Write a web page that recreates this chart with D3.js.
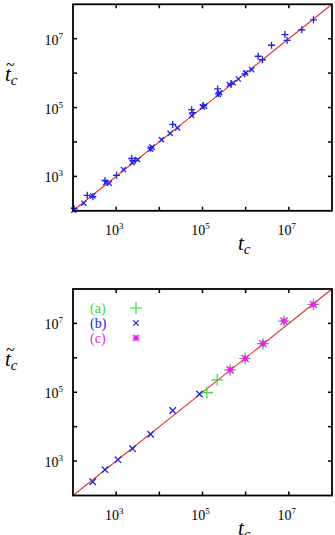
<!DOCTYPE html>
<html>
<head>
<meta charset="utf-8">
<script src="https://cdn.jsdelivr.net/npm/d3@7"></script>
<style>
  body { margin: 0; background: #fff; }
  svg { display: block; }
  text { font-family: "Liberation Serif", "DejaVu Serif", serif; }
</style>
</head>
<body>
<svg id="chart" width="335" height="535"></svg>
<script>
// tick exponents (labels only on odd decades)
const tickExps = [2, 3, 4, 5, 6, 7, 8]
const labelExps = [3, 5, 7]

// top panel: values (t_c, t~_c)
const topPlusTc = [107, 214, 288, 550, 1020, 2290, 2750, 6300, 20400, 56000, 60000, 105000, 224000, 234000, 457000, 955000, 1950000, 2450000, 3980000, 8130000, 9120000, 20000000, 37200000]
const topPlusTt = [115, 282, 257, 760, 1070, 3310, 2880, 6600, 32400, 87000, 71000, 115000, 347000, 251000, 479000, 955000, 3090000, 2450000, 6460000, 13200000, 8910000, 18200000, 35500000]
const topCrossTc = [105, 178, 288, 575, 692, 1480, 2340, 3160, 6300, 6760, 11200, 17800, 26300, 56200, 100000, 112000, 234000, 251000, 417000, 513000, 676000, 1000000, 1380000]
const topCrossTt = [105, 166, 269, 660, 631, 1580, 2510, 3090, 6300, 7080, 11700, 17800, 25700, 58900, 105000, 110000, 240000, 269000, 468000, 525000, 676000, 1000000, 1260000]

// bottom panel series
const aTc = [126000, 219000, 437000, 977000, 2510000, 7760000, 37200000]
const aTt = [98000, 229000, 447000, 955000, 2570000, 11700000, 35500000]
const bTc = [286, 550, 1100, 2400, 6300, 20400, 85000]
const bTt = [251, 562, 1100, 2290, 6030, 29500, 89000]
const cTc = [437000, 977000, 2510000, 7760000, 37200000]
const cTt = [447000, 955000, 2570000, 11700000, 35500000]

const legendNames = ['(a)', '(b)', '(c)']

const svg = d3.select('#chart')

const shapes = {
  plus: (r) => `M${-r},0H${r}M0,${-r}V${r}`,
  cross: (r) => `M${-r},${-r}L${r},${r}M${-r},${r}L${r},${-r}`
}

function drawMarker (m, st) {
  if (st.square) {
    m.append('rect')
      .attr('x', -st.square).attr('y', -st.square)
      .attr('width', st.square * 2).attr('height', st.square * 2)
      .attr('fill', st.color)
  }
  st.shapes.forEach((s) => {
    m.append('path')
      .attr('d', shapes[s](st.r))
      .attr('stroke', st.color)
      .attr('stroke-width', st.sw)
      .attr('fill', 'none')
  })
}

function drawMarks (g, x, y, tc, tt, opts) {
  const pts = tc.map((d, i) => [d, tt[i]])
  g.selectAll(null)
    .data(pts)
    .enter().append('g')
    .attr('transform', (d) => `translate(${x(d[0])},${y(d[1])})`)
    .each(function () { drawMarker(d3.select(this), opts) })
}

function drawPanel (top, drawData) {
  const left = 73
  const right = 332
  const bottom = top + 206.5
  const x = d3.scaleLog().domain([1e2, 1e8]).range([left, right])
  const y = d3.scaleLog().domain([1e2, 1e8]).range([bottom, top])
  const g = svg.append('g')

  // diagonal
  g.append('line')
    .attr('x1', x(1e2)).attr('y1', y(1e2))
    .attr('x2', x(1e8)).attr('y2', y(1e8))
    .attr('stroke', '#e8302c')
    .attr('stroke-width', 1.1)

  drawData(g, x, y)

  // frame
  g.append('rect')
    .attr('x', left).attr('y', top)
    .attr('width', right - left).attr('height', bottom - top)
    .attr('fill', 'none')
    .attr('stroke', '#000')
    .attr('stroke-width', 1.8)

  // inward ticks on all four sides
  const tk = 4
  const ticks = g.append('g').attr('stroke', '#000').attr('stroke-width', 1.5)
  tickExps.slice(1, -1).forEach((e) => {
    const v = Math.pow(10, e)
    ticks.append('line').attr('x1', x(v)).attr('x2', x(v)).attr('y1', bottom).attr('y2', bottom - tk)
    ticks.append('line').attr('x1', x(v)).attr('x2', x(v)).attr('y1', top).attr('y2', top + tk)
    ticks.append('line').attr('y1', y(v)).attr('y2', y(v)).attr('x1', left).attr('x2', left + tk)
    ticks.append('line').attr('y1', y(v)).attr('y2', y(v)).attr('x1', right).attr('x2', right - tk)
  })

  // tick labels
  labelExps.forEach((e) => {
    const v = Math.pow(10, e)
    const tx = g.append('text')
      .attr('x', x(v) - 2).attr('y', bottom + 24)
      .attr('text-anchor', 'middle')
      .attr('font-size', 14)
    tx.append('tspan').text('10')
    tx.append('tspan').attr('font-size', 9).attr('dy', -6).text(e)

    const ty = g.append('text')
      .attr('x', 63).attr('y', y(v) + 6)
      .attr('text-anchor', 'end')
      .attr('font-size', 14)
    ty.append('tspan').text('10')
    ty.append('tspan').attr('font-size', 9).attr('dy', -6).text(e)
  })

  // axis labels
  const xl = g.append('text')
    .attr('x', 238).attr('y', bottom + 39)
    .attr('font-size', 21)
    .attr('font-style', 'italic')
  xl.append('tspan').text('t')
  xl.append('tspan').attr('font-size', 15).attr('dy', 4).text('c')

  // t with tilde, as one text element
  const yl = g.append('text')
    .attr('font-size', 21)
    .attr('font-style', 'italic')
  yl.append('tspan').attr('x', 6).attr('y', top + 66).attr('font-size', 16).attr('font-style', 'normal').text('~')
  yl.append('tspan').attr('x', 5).attr('y', top + 77).text('t')
  yl.append('tspan').attr('font-size', 15).attr('dy', 4).text('c')

  return { x, y, g }
}

// top panel
drawPanel(4.3, (g, x, y) => {
  drawMarks(g, x, y, topPlusTc, topPlusTt, { shapes: ['plus'], r: 3.5, sw: 1.3, color: '#2222ee' })
  drawMarks(g, x, y, topCrossTc, topCrossTt, { shapes: ['cross'], r: 2.6, sw: 1.3, color: '#2222ee' })
})

// bottom panel
const colors = ['#33dd33', '#2222dd', '#ee22ee']
const styles = [
  { shapes: ['plus'], r: 6, sw: 1.2, color: colors[0] },
  { shapes: ['cross'], r: 3.2, sw: 1.3, color: colors[1] },
  { shapes: ['plus', 'cross'], r: 3.6, sw: 1.4, color: colors[2], square: 2.2 }
]
const legendStyles = [
  styles[0],
  Object.assign({}, styles[1], { r: 2.6 }),
  Object.assign({}, styles[2], { r: 3, square: 2 })
]
drawPanel(289, (g, x, y) => {
  drawMarks(g, x, y, aTc, aTt, styles[0])
  drawMarks(g, x, y, bTc, bTt, styles[1])
  drawMarks(g, x, y, cTc, cTt, styles[2])

  legendNames.forEach((name, i) => {
    const ly = 308 + i * 15
    g.append('text')
      .attr('x', 90).attr('y', ly + 5)
      .attr('font-size', 14)
      .attr('fill', colors[i])
      .text(name)
    drawMarker(g.append('g').attr('transform', `translate(136,${ly})`), legendStyles[i])
  })
})
</script>
</body>
</html>
